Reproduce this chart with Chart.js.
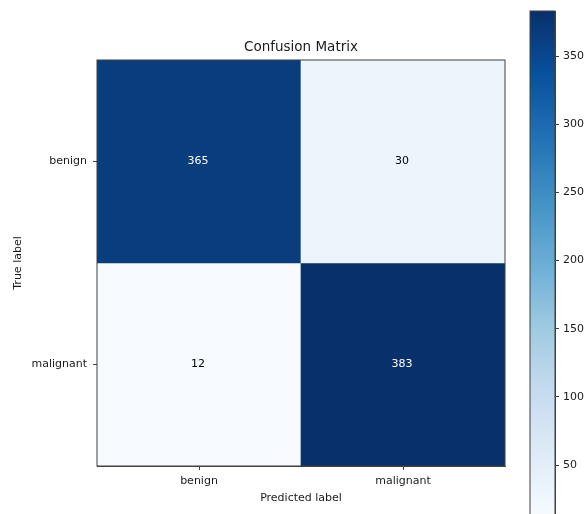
<!DOCTYPE html>
<html>
<head>
<meta charset="utf-8">
<title>Confusion Matrix</title>
<script src="https://cdn.jsdelivr.net/npm/chart.js"></script>
<style>
  html, body { margin: 0; padding: 0; background: #fff; overflow: hidden; }
  #wrap { position: relative; width: 584px; height: 514px; }
  #wrap canvas { position: absolute; left: 0; top: 0; }
</style>
</head>
<body>
<div id="wrap">
  <canvas id="cmChart" width="584" height="514"></canvas>
  <canvas id="cbChart" width="584" height="530"></canvas>
</div>
<script>
// data
const classes = ['benign', 'malignant'];
const matrix = [
  [365, 30],
  [12, 383]
];
const cbTicks = [50, 100, 150, 200, 250, 300, 350];
const chartTitle = 'Confusion Matrix';

const vmin = 12, vmax = 383;
const textColor = '#1a1a1a';
const edgeColor = '#404040';
const fontFamily = "'DejaVu Sans', sans-serif";

// matplotlib "Blues"
const blues = ['#f7fbff', '#deebf7', '#c6dbef', '#9ecae1', '#6baed6', '#4292c6', '#2171b5', '#08519c', '#08306b'];

function hexRgb(h) {
  return [parseInt(h.substr(1, 2), 16), parseInt(h.substr(3, 2), 16), parseInt(h.substr(5, 2), 16)];
}
function bluesAt(v) {
  let t = (v - vmin) / (vmax - vmin);
  t = Math.max(0, Math.min(1, t));
  const pos = t * (blues.length - 1);
  const i = Math.min(Math.floor(pos), blues.length - 2);
  const f = pos - i;
  const a = hexRgb(blues[i]), b = hexRgb(blues[i + 1]);
  const c = a.map((x, k) => Math.round(x + (b[k] - x) * f));
  return 'rgb(' + c.join(',') + ')';
}

// one floating-bar dataset per row of the matrix
const datasets = matrix.map((row, r) => ({
  data: row.map(() => [r - 0.5, r + 0.5]),
  backgroundColor: row.map(v => bluesAt(v)),
  borderWidth: 0,
  barPercentage: 1,
  categoryPercentage: 1
}));

const frame = {
  id: 'frame',
  afterDatasetsDraw(chart) {
    const a = chart.chartArea, ctx = chart.ctx;
    ctx.save();
    ctx.strokeStyle = edgeColor;
    ctx.lineWidth = 1;
    ctx.strokeRect(a.left, a.top, a.right - a.left, a.bottom - a.top);
    ctx.restore();
  }
};

const cellText = {
  id: 'cellText',
  afterDatasetsDraw(chart) {
    const ctx = chart.ctx, xs = chart.scales.x, ys = chart.scales.y;
    const thresh = vmax / 2;
    const a = chart.chartArea;
    ctx.save();
    ctx.font = '11px ' + fontFamily;
    ctx.textAlign = 'center';
    ctx.textBaseline = 'middle';
    matrix.forEach((row, r) => {
      row.forEach((v, c) => {
        ctx.fillStyle = v > thresh ? '#ffffff' : '#000000';
        ctx.fillText(String(v), xs.getPixelForValue(c) - 1, ys.getPixelForValue(r));
      });
    });
    // title centred over the plot area
    ctx.fillStyle = textColor;
    ctx.font = '13.5px ' + fontFamily;
    ctx.fillText(chartTitle, (a.left + a.right) / 2, 47);
    ctx.restore();
  }
};

new Chart(document.getElementById('cmChart'), {
  type: 'bar',
  data: { labels: classes, datasets: datasets },
  options: {
    responsive: false,
    animation: false,
    layout: { padding: { left: 0, top: 60, right: 79, bottom: 0 } },
    plugins: {
      legend: { display: false },
      tooltip: { enabled: false },
      title: { display: false }
    },
    scales: {
      x: {
        type: 'category',
        stacked: true,
        offset: true,
        afterFit(s) { s.height = 48; },
        grid: { offset: false, drawOnChartArea: false, drawTicks: true, tickLength: 4, color: edgeColor },
        border: { display: true, color: edgeColor },
        ticks: { color: textColor, font: { family: fontFamily, size: 11 }, padding: 5, maxRotation: 0 },
        title: { display: true, text: 'Predicted label', color: textColor, font: { family: fontFamily, size: 11 }, padding: { top: 4, bottom: 9 } }
      },
      y: {
        type: 'linear',
        reverse: true,
        min: -0.5,
        max: 1.5,
        afterFit(s) { s.width = 97; },
        afterBuildTicks(s) { s.ticks = classes.map((c, i) => ({ value: i })); },
        grid: { drawOnChartArea: false, drawTicks: true, tickLength: 4, color: edgeColor },
        border: { display: true, color: edgeColor },
        ticks: {
          color: textColor,
          font: { family: fontFamily, size: 11 },
          padding: 6,
          callback: v => classes[v]
        },
        title: { display: true, text: 'True label', color: textColor, font: { family: fontFamily, size: 11 }, padding: { top: 12, bottom: 4 } }
      }
    }
  },
  plugins: [frame, cellText]
});

// colorbar
new Chart(document.getElementById('cbChart'), {
  type: 'bar',
  data: {
    labels: [''],
    datasets: [{
      data: [[vmin, vmax]],
      borderWidth: 0,
      barPercentage: 1,
      categoryPercentage: 1,
      backgroundColor(ctx) {
        const a = ctx.chart.chartArea;
        if (!a) return blues[4];
        const g = ctx.chart.ctx.createLinearGradient(0, a.bottom, 0, a.top);
        blues.forEach((c, i) => g.addColorStop(i / (blues.length - 1), c));
        return g;
      }
    }]
  },
  options: {
    responsive: false,
    animation: false,
    layout: { padding: { left: 530, top: 11, right: 0, bottom: 13 } },
    plugins: { legend: { display: false }, tooltip: { enabled: false } },
    scales: {
      x: { display: false },
      y: {
        position: 'right',
        min: vmin,
        max: vmax,
        afterFit(s) { s.width = 29; },
        afterBuildTicks(s) { s.ticks = cbTicks.map(v => ({ value: v })); },
        grid: { drawOnChartArea: false, drawTicks: true, tickLength: 4, color: edgeColor },
        border: { display: true, color: edgeColor },
        ticks: { color: textColor, font: { family: fontFamily, size: 11 }, padding: 4 }
      }
    }
  },
  plugins: [frame]
});
</script>
</body>
</html>
